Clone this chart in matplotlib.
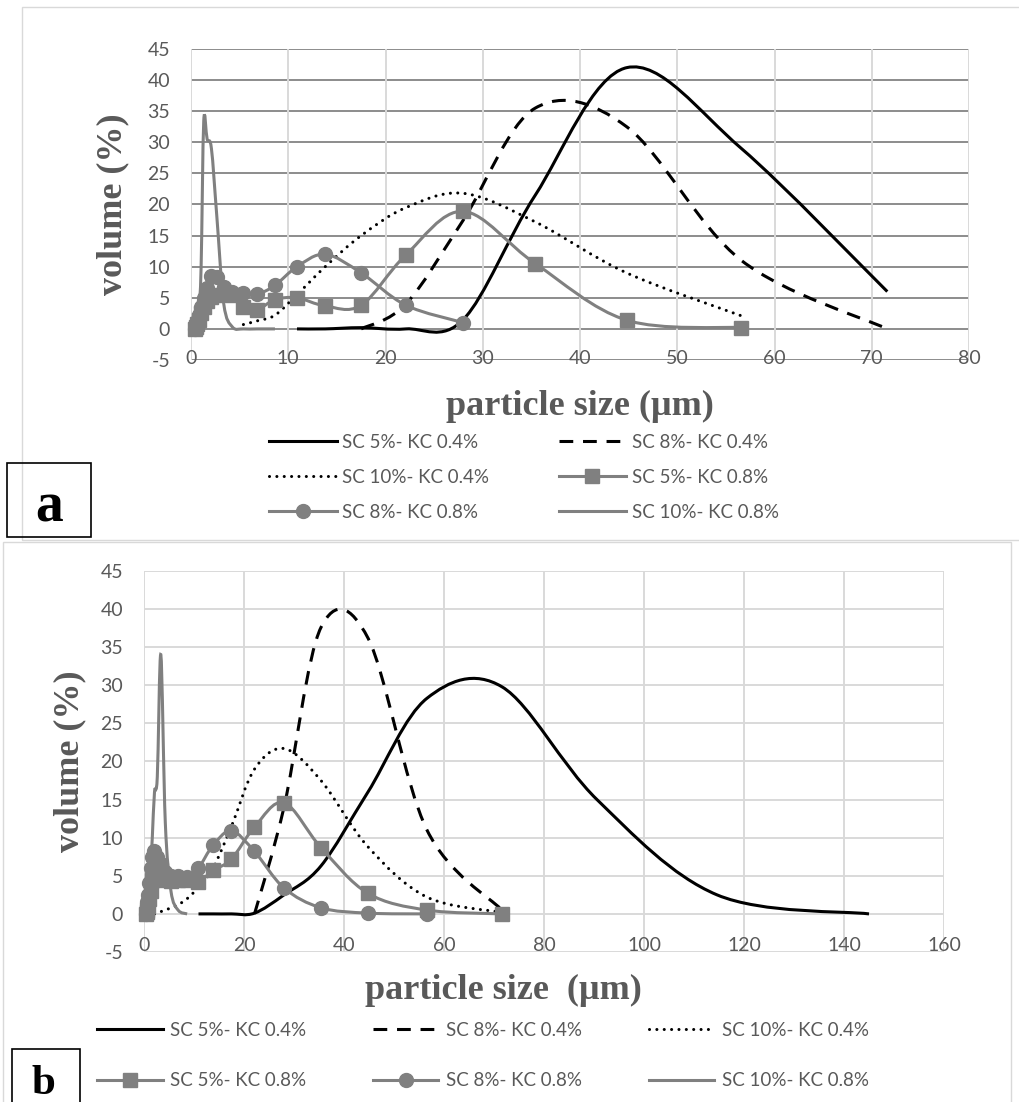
import numpy as np
import matplotlib
matplotlib.use('Agg')
import matplotlib.pyplot as plt
from matplotlib.path import Path
from matplotlib.patches import PathPatch, Rectangle
from matplotlib.lines import Line2D

plt.rcParams['font.family'] = ['Lato', 'DejaVu Sans']
plt.rcParams['axes.unicode_minus'] = False

W, H = 1020, 1102
GRAY = '#808080'
TXT = '#595959'

labels = ['SC 5%- KC 0.4%', 'SC 8%- KC 0.4%', 'SC 10%- KC 0.4%',
          'SC 5%- KC 0.8%', 'SC 8%- KC 0.8%', 'SC 10%- KC 0.8%']

# ---- panel a data ----
a_x1 = [10.9, 13.8, 17.5, 22.1, 28.0, 35.4, 44.8, 56.6, 71.6]
a_y1 = [0, 0, 0.2, 0, 1.5, 21.5, 42, 29, 6]
a_x2 = [17.5, 22.1, 28.0, 35.4, 44.8, 56.6, 71.6]
a_y2 = [0, 4, 17.5, 35.5, 32.5, 11, 0]
a_x3 = [5.39, 6.82, 8.63, 10.9, 13.8, 17.5, 22.1, 28.0, 35.4, 44.8, 56.6]
a_y3 = [0.7, 1.3, 2.2, 5.5, 10, 15, 19.5, 21.8, 17.2, 9, 2.1]
a_x4 = [0.4, 0.51, 0.65, 0.82, 1.04, 1.31, 1.66, 2.1, 2.66, 3.37, 4.26, 5.39,
        6.82, 8.63, 10.9, 13.8, 17.5, 22.1, 28.0, 35.4, 44.8, 56.6]
a_y4 = [0, 0.3, 0.8, 1.5, 2.5, 3.5, 4.5, 5.2, 5.5, 5.6, 5.5, 3.6,
        3.1, 4.7, 5.0, 3.7, 3.8, 11.9, 18.9, 10.5, 1.4, 0.2]
a_x5 = [0.4, 0.51, 0.65, 0.82, 1.04, 1.31, 1.66, 2.1, 2.66, 3.37, 4.26, 5.39,
        6.82, 8.63, 10.9, 13.8, 17.5, 22.1, 28.0]
a_y5 = [0, 0.5, 1.2, 2.2, 3.5, 5.0, 6.5, 8.5, 8.3, 6.8, 6.0, 5.8,
        5.6, 7.0, 10.0, 12.0, 9.0, 3.8, 1.0]
a_x6 = [0.4, 0.51, 0.65, 0.82, 1.04, 1.31, 1.66, 2.1, 2.66, 3.37, 4.26, 5.39, 6.82, 8.63]
a_y6 = [0, 0.3, 1, 3, 10, 33.4, 30.5, 29, 18, 4, 0.3, 0, 0, 0]

# ---- panel b data ----
b_x1 = [10.9, 13.8, 17.5, 22.1, 28.0, 35.4, 44.8, 56.6, 71.6, 90.6, 114.6, 145]
b_y1 = [0, 0, 0, 0.1, 2.5, 6.3, 16, 28.3, 29.8, 15, 2.5, 0]
b_x2 = [22.1, 28.0, 35.4, 44.8, 56.6, 71.6]
b_y2 = [0, 14, 37.6, 36.2, 11, 0.5]
b_x3 = [2.1, 2.66, 3.37, 4.26, 5.39, 6.82, 8.63, 10.9, 13.8, 17.5, 22.1, 28.0,
        35.4, 44.8, 56.6, 71.6]
b_y3 = [0, 0.1, 0.3, 0.5, 0.8, 1.2, 2, 3.5, 6, 11.5, 19, 21.7,
        17.5, 8.8, 2.2, 0.2]
b_x4 = [0.4, 0.51, 0.65, 0.82, 1.04, 1.31, 1.66, 2.1, 2.66, 3.37, 4.26, 5.39,
        6.82, 8.63, 10.9, 13.8, 17.5, 22.1, 28.0, 35.4, 44.8, 56.6, 71.6]
b_y4 = [0, 0.3, 0.5, 1, 2, 3, 4.5, 5.5, 5.5, 5, 4.5, 4.3,
        4.5, 4.5, 4.2, 5.7, 7.2, 11.4, 14.6, 8.7, 2.7, 0.5, 0]
b_x5 = [0.4, 0.51, 0.65, 0.82, 1.04, 1.31, 1.66, 2.1, 2.66, 3.37, 4.26, 5.39,
        6.82, 8.63, 10.9, 13.8, 17.5, 22.1, 28.0, 35.4, 44.8, 56.6]
b_y5 = [0, 0.5, 1.5, 2.5, 4, 6, 7.5, 8.2, 7.5, 6.5, 5.5, 5,
        5, 4.8, 6, 9, 10.9, 8.2, 3.4, 0.8, 0.1, 0]
b_x6 = [0.4, 0.51, 0.65, 0.82, 1.04, 1.31, 1.66, 2.1, 2.66, 3.37, 4.26, 5.39, 6.82, 8.63]
b_y6 = [0, 0.5, 1, 2, 4, 6, 10, 16, 18, 34, 12, 3, 0.5, 0]

y_ticks = list(range(-5, 50, 5))
a_xticks = list(range(0, 90, 10))
b_xticks = list(range(0, 180, 20))

dash = (0, (4.5, 3.2))
dots = (0, (0.01, 2.4))
styles = [
    dict(color='black', ls='-', marker=None),
    dict(color='black', ls=dash, marker=None),
    dict(color='black', ls=dots, marker=None),
    dict(color=GRAY, ls='-', marker='s'),
    dict(color=GRAY, ls='-', marker='o'),
    dict(color=GRAY, ls='-', marker=None),
]
LW = 2.2


def smooth_path(x, y):
    # Excel-style smoothed line (Catmull-Rom as cubic Bezier)
    pts = np.column_stack([x, y]).astype(float)
    n = len(pts)
    verts = [pts[0]]
    codes = [Path.MOVETO]
    for i in range(n - 1):
        p0 = pts[max(i - 1, 0)]
        p1 = pts[i]
        p2 = pts[i + 1]
        p3 = pts[min(i + 2, n - 1)]
        verts += [p1 + (p2 - p0) / 6, p2 - (p3 - p1) / 6, p2]
        codes += [Path.CURVE4] * 3
    return Path(verts, codes)


def draw(ax, xs, ys):
    for x, y, st in zip(xs, ys, styles):
        patch = PathPatch(smooth_path(x, y), fill=False, edgecolor=st['color'],
                          lw=LW, linestyle=st['ls'],
                          capstyle='round' if st['ls'] == dots else 'butt',
                          clip_on=False, zorder=3)
        ax.add_patch(patch)
        if st['marker']:
            ax.plot(x, y, ls='none', marker=st['marker'], ms=10, color=GRAY,
                    mec=GRAY, clip_on=False, zorder=4)


def handles():
    hs = []
    for st in styles:
        h = Line2D([], [], color=st['color'], lw=LW, ls=st['ls'],
                   marker=st['marker'], ms=10, mec=st['color'])
        if st['ls'] == dots:
            h.set_dash_capstyle('round')
        hs.append(h)
    return hs


def frame(x0, y0, x1, y1, color, lw=1.0):
    fig.add_artist(Rectangle((x0 / W, 1 - y1 / H), (x1 - x0) / W, (y1 - y0) / H,
                             transform=fig.transFigure, fill=False,
                             ec=color, lw=lw, fc='none'))


def style_axes(ax, xticks, xmax, hgrid, xpad):
    ax.set_xlim(0, xmax)
    ax.set_ylim(-5, 45)
    ax.set_xticks(xticks)
    ax.set_yticks(y_ticks)
    for s in ax.spines.values():
        s.set_visible(False)
    ax.tick_params(length=0, labelsize=14, labelcolor=TXT)
    ax.tick_params(axis='y', pad=15)
    ax.tick_params(axis='x', pad=xpad)
    for t in y_ticks:
        ax.axhline(t, color=hgrid, lw=1.4, zorder=1)
    for t in xticks:
        ax.axvline(t, color='#d9d9d9', lw=1.4, zorder=1)


fig = plt.figure(figsize=(W / 100, H / 100), dpi=100)

# chart frames
frame(22, 7, 1030, 540, '#d9d9d9')
frame(3, 542, 1011, 1110, '#d9d9d9')

# ---- panel a ----
ax1 = fig.add_axes([191 / W, 1 - 360 / H, 778 / W, 311 / H])
style_axes(ax1, a_xticks, 80, '#8c8c8c', -7.5)
draw(ax1, [a_x1, a_x2, a_x3, a_x4, a_x5, a_x6],
     [a_y1, a_y2, a_y3, a_y4, a_y5, a_y6])
ax1.set_ylabel('volume (%)', family='Liberation Serif', weight='bold',
               size=26, color=TXT)
ax1.yaxis.set_label_coords(-0.079, 0.5)
ax1.set_xlabel('particle size (µm)', family='Liberation Serif', weight='bold',
               size=26, color=TXT)
ax1.xaxis.set_label_coords(0.5, -0.151)
ax1.xaxis.label.set_va('center')

hs = handles()
order = [0, 2, 4, 1, 3, 5]
fig.legend([hs[i] for i in order], [labels[i] for i in order],
           loc='upper left', bbox_to_anchor=(269 / W, 1 - 434 / H), ncol=2,
           frameon=False, fontsize=13.5, labelcolor=TXT, handlelength=3.6,
           handletextpad=0.3, columnspacing=3.7, labelspacing=0.95,
           borderpad=0, borderaxespad=0)

# ---- panel b ----
ax2 = fig.add_axes([144 / W, 1 - 952 / H, 800 / W, 381 / H])
style_axes(ax2, b_xticks, 160, '#d9d9d9', -11)
draw(ax2, [b_x1, b_x2, b_x3, b_x4, b_x5, b_x6],
     [b_y1, b_y2, b_y3, b_y4, b_y5, b_y6])
ax2.set_ylabel('volume (%)', family='Liberation Serif', weight='bold',
               size=26, color=TXT)
ax2.yaxis.set_label_coords(-0.072, 0.5)
ax2.set_xlabel('particle size  (µm)', family='Liberation Serif', weight='bold',
               size=26, color=TXT)
ax2.xaxis.set_label_coords(0.449, -0.1)
ax2.xaxis.label.set_va('center')

order = [0, 3, 1, 4, 2, 5]
fig.legend([hs[i] for i in order], [labels[i] for i in order],
           loc='upper left', bbox_to_anchor=(97 / W, 1 - 1022 / H), ncol=3,
           frameon=False, fontsize=13.5, labelcolor=TXT, handlelength=3.5,
           handletextpad=0.4, columnspacing=3.55, labelspacing=1.78,
           borderpad=0, borderaxespad=0)

# panel letters
frame(7, 463, 91, 537, 'black', 1.2)
fig.text(49 / W, 1 - 508 / H, 'a', family='Liberation Serif', weight='bold',
         size=40, ha='center', va='center')
frame(12, 1049, 80, 1110, 'black', 1.2)
fig.text(43 / W, 1 - 1084 / H, 'b', family='Liberation Serif', weight='bold',
         size=31, ha='center', va='center')

fig.savefig('out.png', dpi=100)
